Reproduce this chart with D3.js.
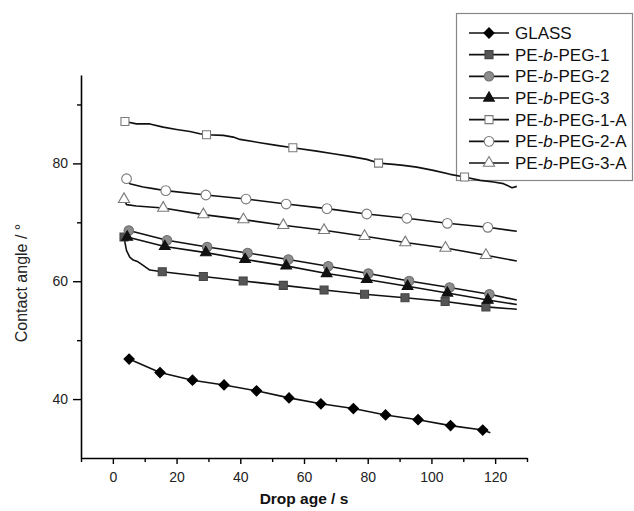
<!DOCTYPE html>
<html>
<head>
<meta charset="utf-8">
<script src="https://cdn.jsdelivr.net/npm/d3@7"></script>
<style>
  html, body { margin: 0; padding: 0; background: #fff; }
  svg { display: block; font-family: "Liberation Sans", Arial, sans-serif; }
</style>
</head>
<body>
<svg id="chart" width="634" height="511"></svg>
<script>
// ---------- data (drop age s, contact angle °) ----------
const seriesNames = ["GLASS", "PE-b-PEG-1", "PE-b-PEG-2", "PE-b-PEG-3", "PE-b-PEG-1-A", "PE-b-PEG-2-A", "PE-b-PEG-3-A"];

const glassMarkers = [[5.1,46.8],[14.8,44.5],[25.0,43.2],[34.9,42.4],[45.1,41.4],[55.3,40.2],[65.3,39.2],[75.5,38.4],[85.6,37.3],[95.8,36.5],[106.0,35.5],[116.1,34.75]];
const glassCurve = [[118.5,34.3]];

const peg1Markers = [[3.5,67.5],[15.5,61.6],[28.4,60.8],[40.9,60.05],[53.5,59.3],[66.3,58.5],[79.0,57.8],[91.7,57.2],[104.3,56.55],[117.1,55.65]];
const peg1Curve = [[4.0,66.0],[4.3,65.2],[5.3,64.1],[6.4,63.6],[7.9,63.3],[9.5,62.7],[11.6,61.9],[126.8,55.25]];

const peg2Markers = [[5.0,68.6],[17.0,66.95],[29.6,65.8],[42.3,64.8],[55.1,63.7],[67.6,62.55],[80.2,61.3],[93.0,60.05],[105.7,58.95],[118.2,57.8]];
const peg2Curve = [[126.8,56.8]];

const peg3Markers = [[4.5,67.5],[16.3,65.9],[29.2,64.85],[41.5,63.7],[54.4,62.6],[67.1,61.3],[79.7,60.3],[92.5,59.15],[105.0,58.0],[117.7,56.8]];
const peg3Curve = [[126.8,56.05]];

const a1Markers = [[3.8,87.1],[29.4,84.86],[56.5,82.66],[83.4,80.05],[110.4,77.68]];
const a1Curve = [[7.4,86.7],[11.6,86.7],[15.8,86.15],[20.0,85.76],[24.2,85.42],[27.3,85.03],[34.7,84.75],[37.8,84.46],[39.9,84.07],[46.2,83.51],[51.4,83.05],[64.0,82.08],[69.2,81.64],[74.5,81.19],[79.7,80.68],[88.1,79.83],[91.2,79.66],[95.4,79.37],[100.6,78.81],[105.9,78.14],[115.3,77.12],[119.5,76.83],[122.6,76.56],[125.3,75.88],[126.8,76.1]];

const a2Markers = [[4.3,77.4],[16.6,75.37],[29.2,74.63],[41.8,73.95],[54.4,73.1],[67.2,72.32],[79.7,71.41],[92.3,70.68],[105.0,69.83],[117.7,69.15]];
const a2Curve = [[5.3,76.56],[9.5,75.98],[12.7,75.71],[126.8,68.47]];

const a3Markers = [[3.5,73.9],[15.8,72.42],[28.4,71.31],[41.0,70.46],[53.5,69.49],[66.3,68.64],[79.0,67.63],[91.8,66.56],[104.4,65.64],[117.1,64.41]];
const a3Curve = [[4.3,73.0],[7.4,72.76],[126.8,63.44]];

const xMajorTicks = [0,20,40,60,80,100,120];
const xMinorTicks = [-10,10,30,50,70,90,110,130];
const yMajorTicks = [40,60,80];
const yMinorTicks = [50,70,90];

// ---------- styles ----------
const styles = [
  {symbol: d3.symbolSquare, size: 52, rotate: 45, fill: "#000", stroke: "#000"},
  {symbol: d3.symbolSquare, size: 64, rotate: 0, fill: "#555", stroke: "#444"},
  {symbol: d3.symbolCircle, size: 70, rotate: 0, fill: "#8c8c8c", stroke: "#6e6e6e"},
  {symbol: d3.symbolTriangle, size: 50, rotate: 0, fill: "#111", stroke: "#111"},
  {symbol: d3.symbolSquare, size: 64, rotate: 0, fill: "#fff", stroke: "#7a7a7a"},
  {symbol: d3.symbolCircle, size: 74, rotate: 0, fill: "#fff", stroke: "#7a7a7a"},
  {symbol: d3.symbolTriangle, size: 54, rotate: 0, fill: "#fff", stroke: "#7a7a7a"}
];

const seriesMarkers = [glassMarkers, peg1Markers, peg2Markers, peg3Markers, a1Markers, a2Markers, a3Markers];
const seriesCurves = [glassCurve, peg1Curve, peg2Curve, peg3Curve, a1Curve, a2Curve, a3Curve];

// ---------- scales ----------
const svg = d3.select("#chart");
const x = d3.scaleLinear().domain([-10, 130]).range([81, 527]);
const y = d3.scaleLinear().domain([30, 95]).range([458, 75]);

// ---------- legend (drawn first, data lines pass over its edge) ----------
const legend = svg.append("g");
legend.append("rect")
  .attr("x", 456.5).attr("y", 13.5).attr("width", 176).attr("height", 167)
  .attr("fill", "#fff").attr("stroke", "#888").attr("stroke-width", 1.2);

const rowY = d3.scaleLinear().domain([0, 6]).range([33, 163]);
seriesNames.forEach((name, i) => {
  const cy = rowY(i);
  const s = styles[i];
  legend.append("line")
    .attr("x1", 469).attr("x2", 509).attr("y1", cy).attr("y2", cy)
    .attr("stroke", "#111").attr("stroke-width", 1.6);
  legend.append("path")
    .attr("transform", `translate(489,${cy}) rotate(${s.rotate})`)
    .attr("d", d3.symbol().type(s.symbol).size(s.size))
    .attr("fill", s.fill).attr("stroke", s.stroke).attr("stroke-width", 1.1);
  const t = legend.append("text")
    .attr("x", 515).attr("y", cy + 6)
    .attr("font-size", 17).attr("fill", "#111");
  const parts = name.split("-b-");
  if (parts.length === 2) {
    t.append("tspan").text(parts[0] + "-");
    t.append("tspan").attr("font-style", "italic").text("b");
    t.append("tspan").text("-" + parts[1]);
  } else {
    t.text(name);
  }
});

// ---------- axes ----------
const fontSize = 14;
svg.append("g").attr("transform", `translate(0,${y(30)})`)
  .call(d3.axisBottom(x).tickValues(xMajorTicks).tickSize(6).tickSizeOuter(0).tickPadding(8));
const gxm = svg.append("g").attr("transform", `translate(0,${y(30)})`)
  .call(d3.axisBottom(x).tickValues(xMinorTicks).tickSize(4).tickSizeOuter(0).tickFormat(""));
gxm.select(".domain").remove();

svg.append("g").attr("transform", `translate(${x(-10)},0)`)
  .call(d3.axisLeft(y).tickValues(yMajorTicks).tickSize(8).tickSizeOuter(0).tickPadding(5));
const gym = svg.append("g").attr("transform", `translate(${x(-10)},0)`)
  .call(d3.axisLeft(y).tickValues(yMinorTicks).tickSize(4).tickSizeOuter(0).tickFormat(""));
gym.select(".domain").remove();

svg.selectAll(".domain").attr("stroke", "#000").attr("stroke-width", 1.6);
svg.selectAll(".tick line").attr("stroke", "#000").attr("stroke-width", 1.4);
svg.selectAll(".tick text").attr("font-size", fontSize).attr("fill", "#222")
  .attr("font-family", "Liberation Sans, Arial, sans-serif");

// axis titles
svg.append("text")
  .attr("x", 304).attr("y", 504)
  .attr("text-anchor", "middle")
  .attr("font-size", 15.5).attr("font-weight", "bold").attr("fill", "#111")
  .text("Drop age / s");

svg.append("text")
  .attr("transform", "translate(27,283) rotate(-90)")
  .attr("text-anchor", "middle")
  .attr("font-size", 16).attr("fill", "#222")
  .text("Contact angle / °");

// ---------- lines ----------
const line = d3.line().x(d => x(d[0])).y(d => y(d[1]));
seriesMarkers.forEach((m, i) => {
  const pts = m.concat(seriesCurves[i]).sort((a, b) => a[0] - b[0]);
  svg.append("path").datum(pts)
    .attr("d", line)
    .attr("fill", "none")
    .attr("stroke", "#111")
    .attr("stroke-width", 1.6)
    .attr("stroke-linejoin", "round");
});

// ---------- markers ----------
seriesMarkers.forEach((m, i) => {
  const s = styles[i];
  svg.append("g").selectAll("path").data(m).join("path")
    .attr("transform", d => `translate(${x(d[0])},${y(d[1])}) rotate(${s.rotate})`)
    .attr("d", d3.symbol().type(s.symbol).size(s.size))
    .attr("fill", s.fill)
    .attr("stroke", s.stroke)
    .attr("stroke-width", 1.1);
});
</script>
</body>
</html>
